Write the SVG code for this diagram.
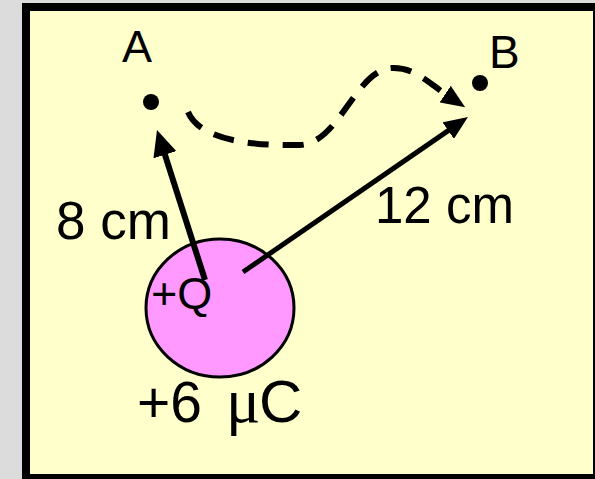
<svg xmlns="http://www.w3.org/2000/svg" width="595" height="479" viewBox="0 0 595 479">
  <style>
    .lbl { font-family: "Liberation Sans", Arial, sans-serif; fill: #000; }
    .conn { stroke: #000; fill: none; }
  </style>
  <defs>
    <marker id="headA" markerUnits="userSpaceOnUse" markerWidth="26" markerHeight="24" viewBox="0 0 26 24" refX="4" refY="12" orient="auto">
      <path d="M0,0 L26,12 L0,24 z" fill="#000"/>
    </marker>
    <marker id="headB" markerUnits="userSpaceOnUse" markerWidth="24" markerHeight="20" viewBox="0 0 24 20" refX="4" refY="10" orient="auto">
      <path d="M0,0 L24,10 L0,20 z" fill="#000"/>
    </marker>
  </defs>
  <rect x="0" y="0" width="595" height="479" fill="#DCDCDC"/>
  <rect x="26" y="7" width="571" height="471" fill="#FFFFCC" stroke="#000" stroke-width="8"/>

  <g id="charge">
    <ellipse cx="220" cy="308" rx="74" ry="69" fill="#FF99FF" stroke="#000" stroke-width="3"/>
    <text class="lbl" x="151" y="309" font-size="45">+Q</text>
    <text class="lbl" y="422" font-size="57"><tspan x="137">+6</tspan><tspan x="226" font-size="64" font-family="'Liberation Serif', 'Times New Roman', serif">μ</tspan><tspan x="259" font-size="60">C</tspan></text>
  </g>

  <g id="pointA">
    <circle cx="151" cy="102" r="8" fill="#000"/>
    <text class="lbl" x="137" y="62" font-size="45" text-anchor="middle">A</text>
  </g>

  <g id="pointB">
    <circle cx="480" cy="83" r="8" fill="#000"/>
    <text class="lbl" x="489" y="68" font-size="46">B</text>
  </g>

  <g id="connectors">
    <line class="conn" x1="205" y1="280" x2="163.7" y2="150.9" stroke-width="6" marker-end="url(#headA)"/>
    <line class="conn" x1="243" y1="272" x2="451.5" y2="128.4" stroke-width="5" marker-end="url(#headB)"/>
    <path class="conn" d="M188,112 C200,140 250,146 300,145 C340,143 355,70 392,68 C415,67 430,84 448.5,96.3" stroke-width="6" stroke-dasharray="21,14" marker-end="url(#headB)"/>
    <text class="lbl" x="56" y="239" font-size="53">8 cm</text>
    <text class="lbl" x="375" y="223" font-size="51">12 cm</text>
  </g>
</svg>
